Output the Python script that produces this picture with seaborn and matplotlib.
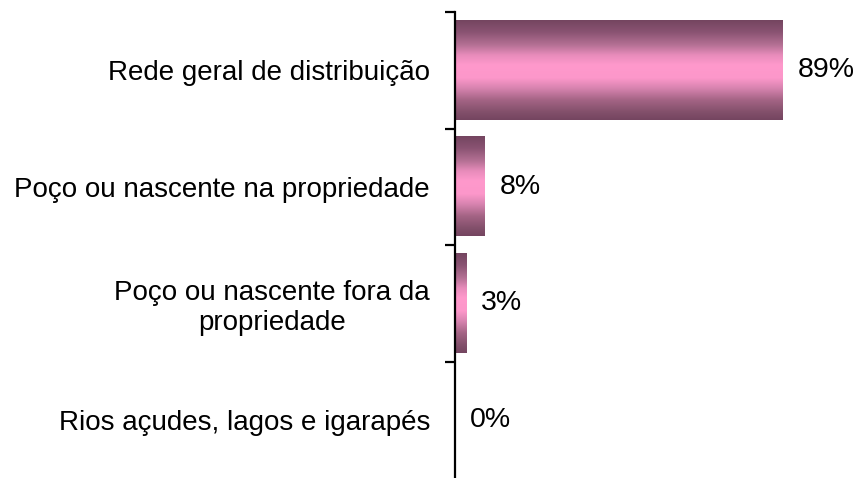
import numpy as np
import pandas as pd
import matplotlib
matplotlib.use("Agg")
import matplotlib.pyplot as plt
from matplotlib.colors import LinearSegmentedColormap
import seaborn as sns

categories = [
    "Rede geral de distribuição",
    "Poço ou nascente na propriedade",
    "Poço ou nascente fora da\npropriedade",
    "Rios açudes, lagos e igarapés",
]
values = [89, 8, 3, 0]
value_labels = ["89%", "8%", "3%", "0%"]

df = pd.DataFrame({"fonte": categories, "pct": values})

sns.set_theme(style="white")
plt.rcParams["font.family"] = ["Liberation Sans", "DejaVu Sans"]

fig = plt.figure(figsize=(8.61, 4.78), dpi=100)
ax = fig.add_axes([455 / 861, 0.0, 1 - 455 / 861, 1 - 12 / 478])

sns.barplot(data=df, y="fonte", x="pct", orient="h", width=0.85,
            color="#c47a9e", ax=ax)

# metallic pink shading: dark edges, bright middle
shade = LinearSegmentedColormap.from_list(
    "mauve",
    [(0.0, "#744560"), (0.12, "#8a5372"), (0.25, "#b57195"),
     (0.35, "#e88cbb"), (0.45, "#ff99cc"), (0.58, "#fc97ca"),
     (0.68, "#d884b0"), (0.80, "#a46485"), (0.92, "#83506b"),
     (1.0, "#744560")])
grad = np.linspace(0, 1, 256).reshape(-1, 1)

for patch in ax.patches:
    x0, y0 = patch.get_x(), patch.get_y()
    w, h = patch.get_width(), patch.get_height()
    if w <= 0:
        continue
    patch.set_facecolor("none")
    patch.set_edgecolor("none")
    ax.imshow(grad, cmap=shade, aspect="auto", interpolation="bilinear",
              extent=(x0, x0 + w, y0 + h, y0), zorder=2)

for i, (v, lab) in enumerate(zip(values, value_labels)):
    ax.annotate(lab, xy=(v, i), xytext=(11, 0), textcoords="offset points",
                ha="left", va="center", fontsize=20.5, color="black")

ax.set_xlim(0, 110.2)
ax.set_ylim(3.5, -0.5)

for side in ("top", "right", "bottom"):
    ax.spines[side].set_visible(False)
ax.spines["left"].set_linewidth(1.6)
ax.spines["left"].set_color("black")

ax.set_xticks([])
ax.set_xlabel("")
ax.set_ylabel("")
ax.set_yticks(range(len(categories)))
ax.set_yticklabels(categories, fontsize=20, color="black", multialignment="center")
ax.tick_params(axis="y", which="major", length=0, pad=18)
ax.set_yticks([-0.5, 0.5, 1.5, 2.5], minor=True)
ax.tick_params(axis="y", which="minor", length=7.5, width=1.6, color="black", left=True)

fig.savefig("out.png", dpi=100)
